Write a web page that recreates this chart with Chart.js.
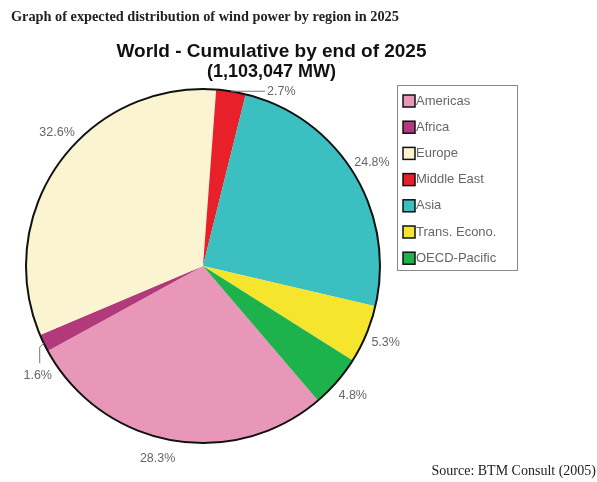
<!DOCTYPE html>
<html lang="en">
<head>
  <meta charset="UTF-8" />
  <title>Wind power by region 2025</title>
  <script src="https://cdn.jsdelivr.net/npm/chart.js"></script>
  <style>
    body {
      margin: 0;
      width: 597px;
      height: 482px;
      background: #fff;
      position: relative;
      overflow: hidden;
    }
    .caption {
      position: absolute;
      left: 11px;
      top: 8px;
      font-family: 'Liberation Serif', serif;
      font-weight: bold;
      font-size: 14.3px;
      color: #222;
      white-space: nowrap;
    }
    .title {
      position: absolute;
      left: 0;
      width: 543px;
      text-align: center;
      font-family: 'Liberation Sans', Arial, sans-serif;
      font-weight: bold;
      color: #111;
      white-space: nowrap;
    }
    .source {
      position: absolute;
      right: 1px;
      top: 463px;
      font-family: 'Liberation Serif', serif;
      font-size: 14px;
      color: #222;
      white-space: nowrap;
    }
    #wrap {
      position: absolute;
      left: 0;
      top: 0;
      width: 597px;
      height: 482px;
    }
  </style>
</head>
<body>

<div id="wrap"><canvas id="chart"></canvas></div>
<div class="caption">Graph of expected distribution of wind power by region in 2025</div>
<div class="title" style="top:40px;font-size:19px;">World - Cumulative by end of 2025</div>
<div class="title" style="top:61px;font-size:18px;">(1,103,047 MW)</div>
<div class="source">Source: BTM Consult (2005)</div>

<script>
  const regions = ["Americas", "Africa", "Europe", "Middle East", "Asia", "Trans. Econo.", "OECD-Pacific"];
  const shares = [28.3, 1.6, 32.6, 2.7, 24.8, 5.3, 4.8];
  const colors = ["#e897b8", "#b33a7a", "#fbf4d0", "#e8202a", "#3bbfc0", "#f5e52c", "#1db24b"];

  // outer black ring + percent labels outside the pie
  const pieDecor = {
    id: 'pieDecor',
    afterDatasetsDraw(chart) {
      const ctx = chart.ctx;
      const arcs = chart.getDatasetMeta(0).data;
      if (!arcs.length) return;
      const cx = arcs[0].x, cy = arcs[0].y, r = arcs[0].outerRadius;

      ctx.save();
      ctx.beginPath();
      ctx.arc(cx, cy, r, 0, Math.PI * 2);
      ctx.lineWidth = 2;
      ctx.strokeStyle = '#111';
      ctx.stroke();

      ctx.font = '12.5px "Liberation Sans", Arial, sans-serif';
      ctx.fillStyle = '#666';
      ctx.strokeStyle = '#777';
      ctx.lineWidth = 1;

      arcs.forEach((arc, i) => {
        let mid = (arc.startAngle + arc.endAngle) / 2;
        const txt = shares[i].toFixed(1) + '%';
        const ex = cx + Math.cos(mid) * r;
        const ey = cy + Math.sin(mid) * r;
        if (shares[i] < 3) {
          ctx.beginPath();
          ctx.moveTo(ex, ey);
          if (ex > cx) {
            ctx.lineTo(ex + 34, ey);
            ctx.stroke();
            ctx.textAlign = 'left';
            ctx.textBaseline = 'middle';
            ctx.fillText(txt, ex + 36, ey);
          } else {
            ctx.lineTo(ex - 4, ey + 4);
            ctx.lineTo(ex - 4, ey + 20);
            ctx.stroke();
            ctx.textAlign = 'center';
            ctx.textBaseline = 'middle';
            ctx.fillText(txt, ex - 6, ey + 32);
          }
        } else {
          // big slices: nudge the label toward the nearer vertical axis a little
          const d = r + 21;
          if (shares[i] > 30) mid += 0.12;
          if (shares[i] > 28 && shares[i] < 30) mid += 0.05;
          ctx.textAlign = 'center';
          ctx.textBaseline = 'middle';
          ctx.fillText(txt, cx + Math.cos(mid) * d, cy + Math.sin(mid) * d);
        }
      });
      ctx.restore();
    }
  };

  // boxed legend to the right of the pie
  const boxLegend = {
    id: 'boxLegend',
    afterDraw(chart) {
      const ctx = chart.ctx;
      const x = 397, y = 85, w = 120, h = 185;
      ctx.save();
      ctx.strokeStyle = '#888';
      ctx.lineWidth = 1;
      ctx.strokeRect(x + 0.5, y + 0.5, w, h);
      ctx.font = '13px "Liberation Sans", Arial, sans-serif';
      ctx.textBaseline = 'middle';
      ctx.textAlign = 'left';
      regions.forEach((name, i) => {
        const ly = y + 16 + i * 26.2;
        ctx.fillStyle = colors[i];
        ctx.fillRect(x + 6, ly - 6, 12, 12);
        ctx.strokeStyle = '#111';
        ctx.lineWidth = 1.5;
        ctx.strokeRect(x + 6, ly - 6, 12, 12);
        ctx.fillStyle = '#666';
        ctx.fillText(name, x + 19, ly);
      });
      ctx.restore();
    }
  };

  new Chart(document.getElementById('chart'), {
    type: 'pie',
    data: {
      labels: regions,
      datasets: [{
        data: shares,
        backgroundColor: colors,
        borderWidth: 0
      }]
    },
    options: {
      responsive: true,
      maintainAspectRatio: false,
      animation: false,
      rotation: 139.5,
      layout: { padding: { left: 26, right: 217, top: 89, bottom: 39 } },
      plugins: {
        legend: { display: false },
        tooltip: { enabled: false }
      }
    },
    plugins: [pieDecor, boxLegend]
  });
</script>

</body>
</html>
